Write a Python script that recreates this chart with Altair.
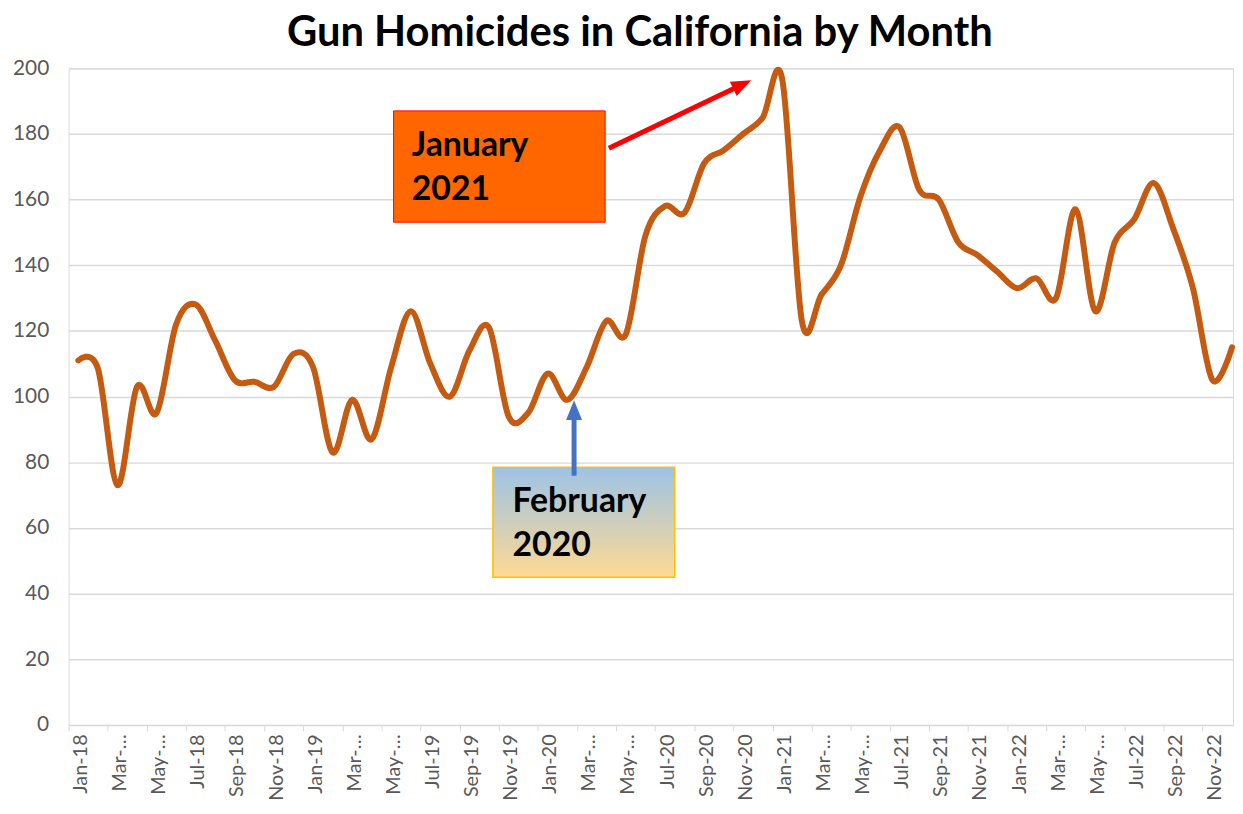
import altair as alt
import pandas as pd

TITLE = "Gun Homicides in California by Month"

month_names = ["Jan", "Feb", "Mar", "Apr", "May", "Jun",
               "Jul", "Aug", "Sep", "Oct", "Nov", "Dec"]
years = ["18", "19", "20", "21", "22"]
months = [f"{m}-{y}" for y in years for m in month_names]

homicides_2018 = [111, 108.5, 73, 103, 95, 122, 128, 117, 105, 104.5, 103, 113]
homicides_2019 = [109, 83, 99, 87, 109, 126, 110, 100, 114, 121, 94, 95]
homicides_2020 = [107, 99, 109, 123, 119, 149, 158, 156, 171, 175, 180, 185]
homicides_2021 = [196.5, 123, 131, 140, 161, 175, 182, 163, 160, 147, 143, 138]
homicides_2022 = [133, 136, 130, 157, 126, 147, 154, 165, 151, 133, 105, 115]
homicides = homicides_2018 + homicides_2019 + homicides_2020 + homicides_2021 + homicides_2022

tick_labels = [
    "Jan-18", "Mar-…", "May-…", "Jul-18", "Sep-18", "Nov-18",
    "Jan-19", "Mar-…", "May-…", "Jul-19", "Sep-19", "Nov-19",
    "Jan-20", "Mar-…", "May-…", "Jul-20", "Sep-20", "Nov-20",
    "Jan-21", "Mar-…", "May-…", "Jul-21", "Sep-21", "Nov-21",
    "Jan-22", "Mar-…", "May-…", "Jul-22", "Sep-22", "Nov-22",
]
y_ticks = [0, 20, 40, 60, 80, 100, 120, 140, 160, 180, 200]

FONT = "Lato"
LINE_COLOR = "#C55A11"
GRID = "#D9D9D9"
LABEL = "#595959"

df = pd.DataFrame({"i": list(range(len(homicides))), "month": months, "value": homicides})

# tick marks sit on the left edge of every second month band
tick_values = [2 * k - 0.5 for k in range(len(tick_labels))]
label_expr = ("[" + ",".join(f"'{t}'" for t in tick_labels) + "]"
              "[round((datum.value + 0.5) / 2)]")

xscale = alt.Scale(domain=[-0.5, 59.05], nice=False, zero=False)
yscale = alt.Scale(domain=[0, 200], nice=False, zero=True)

line = alt.Chart(df).mark_line(
    color=LINE_COLOR, strokeWidth=6, interpolate="cardinal",
    strokeCap="round", strokeJoin="round"
).encode(
    x=alt.X("i:Q", scale=xscale, title=None,
            axis=alt.Axis(values=tick_values, labelExpr=label_expr, labelAngle=270,
                          labelOffset=12, tickSize=6, tickColor=GRID, domainColor=GRID,
                          grid=False, labelFont=FONT, labelFontSize=20, labelColor=LABEL,
                          labelPadding=3, labelOverlap=False, labelFlush=False)),
    y=alt.Y("value:Q", scale=yscale, title=None,
            axis=alt.Axis(values=y_ticks, grid=True, gridColor=GRID, gridWidth=1.5,
                          domain=False, ticks=False, labelFont=FONT, labelFontSize=21,
                          labelColor=LABEL, labelPadding=20)),
)

# ---- annotations (data coordinates) ----
jan_box = pd.DataFrame({"x": [16.12], "x2": [26.94], "y": [187.0], "y2": [153.1]})
feb_box = pd.DataFrame({"x": [21.2], "x2": [30.5], "y": [78.5], "y2": [45.0]})

box_jan = alt.Chart(jan_box).mark_rect(fill="#FF6600", stroke="#FF0000", strokeWidth=1).encode(
    x=alt.X("x:Q", title=None), x2="x2", y=alt.Y("y:Q", title=None), y2="y2")

gradient = alt.Gradient(
    gradient="linear",
    stops=[alt.GradientStop(color="#9DC3E6", offset=0),
           alt.GradientStop(color="#FFD993", offset=1)],
    x1=0, x2=0, y1=0, y2=1,
)
box_feb = alt.Chart(feb_box).mark_rect(fill=gradient, stroke="#FFC000", strokeWidth=1.5).encode(
    x=alt.X("x:Q", title=None), x2="x2", y=alt.Y("y:Q", title=None), y2="y2")

notes = pd.DataFrame({
    "x": [17.05, 17.05, 22.2, 22.2],
    "y": [173.3, 160.0, 64.7, 51.5],
    "text": ["January", "2021", "February", "2020"],
})
note_text = alt.Chart(notes).mark_text(
    align="left", baseline="alphabetic", font=FONT, fontSize=34,
    fontWeight="bold", color="black"
).encode(x=alt.X("x:Q", title=None), y=alt.Y("y:Q", title=None), text="text:N")

red_shaft = pd.DataFrame({"x": [27.13], "y": [175.6], "x2": [33.66], "y2": [194.2]})
red_tip = pd.DataFrame({"x": [34.41], "y": [196.3]})
blue_shaft = pd.DataFrame({"x": [25.35], "y": [75.9], "x2": [25.35], "y2": [94.4]})
blue_tip = pd.DataFrame({"x": [25.35], "y": [98.9]})

HEAD = "M0,0 L-0.8,2 L0.8,2 Z"

red_rule = alt.Chart(red_shaft).mark_rule(color="#FF0000", strokeWidth=5).encode(
    x=alt.X("x:Q", title=None), y=alt.Y("y:Q", title=None), x2="x2", y2="y2")
red_head = alt.Chart(red_tip).mark_point(
    shape=HEAD, filled=True, color="#FF0000", size=400, angle=64.5, opacity=1
).encode(x=alt.X("x:Q", title=None), y=alt.Y("y:Q", title=None))

blue_rule = alt.Chart(blue_shaft).mark_rule(color="#4472C4", strokeWidth=5).encode(
    x=alt.X("x:Q", title=None), y=alt.Y("y:Q", title=None), x2="x2", y2="y2")
blue_head = alt.Chart(blue_tip).mark_point(
    shape=HEAD, filled=True, color="#4472C4", size=400, angle=0, opacity=1
).encode(x=alt.X("x:Q", title=None), y=alt.Y("y:Q", title=None))

chart = alt.layer(
    line, box_jan, box_feb, note_text, red_rule, red_head, blue_rule, blue_head
).properties(
    width=1172, height=661,
    title=alt.TitleParams(text=TITLE, font=FONT, fontSize=42, fontWeight="bold",
                          color="black", anchor="middle", frame="group", dx=-11, offset=2),
    autosize=alt.AutoSizeParams(type="none"),
    padding={"left": 61, "top": 58, "right": 2, "bottom": 75},
).configure_view(stroke=None).configure(background="white")

chart.save("out.html", embed_options={"renderer": "svg", "actions": False})
